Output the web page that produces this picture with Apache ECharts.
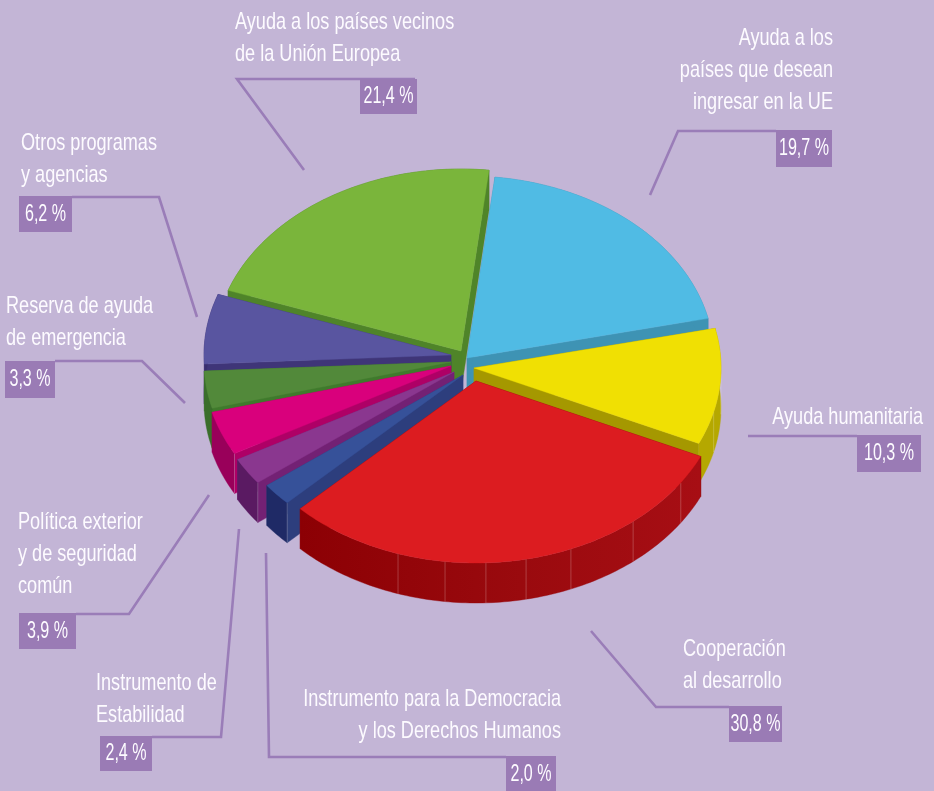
<!DOCTYPE html>
<html>
<head>
<meta charset="utf-8">
<style>html,body{margin:0;padding:0;background:#c3b5d6}#c{width:934px;height:791px}</style>
<script src="https://cdn.jsdelivr.net/npm/echarts@6/dist/echarts.min.js"></script>
</head>
<body>
<div id="c"></div>
<script>
// ---- data (clockwise from the top of the pie) ----
const categories = [
  'Ayuda a los\npaíses que desean\ningresar en la UE',
  'Ayuda humanitaria',
  'Cooperación\nal desarrollo',
  'Instrumento para la Democracia\ny los Derechos Humanos',
  'Instrumento de\nEstabilidad',
  'Política exterior\ny de seguridad\ncomún',
  'Reserva de ayuda\nde emergencia',
  'Otros programas\ny agencias',
  'Ayuda a los países vecinos\nde la Unión Europea'
];
const shares = [19.7, 10.3, 30.8, 2.0, 2.4, 3.9, 3.3, 6.2, 21.4];

// ---- styles ----
const topColors  = ['#50bbe4','#f0e003','#dc1c20','#365199','#8a378f','#d9007c','#52893a','#5955a0','#7ab53b'];
const sideColors = ['#3e93b4','#a59800','#8c0004','#2d3e7d','#732174','#ae0066','#3f7a2c','#3f3578','#4f8429'];
const rimColors  = ['#3e93b4','#b5a800',null,'#1f2a66','#5a1a62','#99005a','#3a6e2b','#3a2f70','#4f8429'];
const paintOrder = [8, 7, 0, 6, 1, 5, 4, 3, 2];
// per-slice pull-out from the pie centre, in px
const explode = [[4,-8],[11,2],[13,15],[0,9],[-9,6],[-12,0],[-12,-4],[-12,-11],[-2,-15]];
const seams = {2:[124,140.5,157.4,168.3,177.7,187.2,198.4], 1:[92,104]};
const CX = 463, CY = 366, RX = 247, RY = 182, DEPTH = 40, START = 6.5;

// ---- label layout ----
const FONT = '"Liberation Sans Narrow","Liberation Sans",sans-serif';
const FS = 24, LH = 32, SX = 0.755, PCT_SX = 0.67;
const BOX = '#9a7bb5', LINE = '#9a7db8', TXT = '#fdfbff';
const labelLayout = [
  {x:833,y:38,align:'right', box:[776,130,56,37], line:[[650,195],[678,131],[776,131]]},
  {x:923,y:417,align:'right',box:[857,435,64,37], line:[[748,436],[857,436]]},
  {x:683,y:649,align:'left', box:[729,706,53,36], line:[[591,631],[656,707],[729,707]]},
  {x:561,y:699,align:'right',box:[506,756,50,37], line:[[266,553],[269,757],[506,757]]},
  {x:96,y:683,align:'left',  box:[100,736,52,35], line:[[239,529],[221,737],[152,737]]},
  {x:18,y:522,align:'left',  box:[19,613,57,36],  line:[[209,495],[129,614],[76,614]]},
  {x:6,y:306,align:'left',   box:[5,361,50,37],   line:[[185,403],[142,361],[55,361]]},
  {x:21,y:143,align:'left',  box:[19,196,53,36],  line:[[197,317],[159,197],[72,197]]},
  {x:235,y:22,align:'left',  box:[360,79,57,35],  line:[[304,170],[237,79],[415,79]]}
];

// ---- geometry derived from the values ----
const total = shares.reduce((a, b) => a + b, 0);
const spans = [];
shares.reduce((acc, v, i) => {
  const end = acc + v / total * 360;
  spans[i] = [acc, end];
  return end;
}, START);

function pt(i, deg, dz) {
  const t = deg * Math.PI / 180;
  return [CX + explode[i][0] + RX * Math.sin(t),
          CY + explode[i][1] - RY * Math.cos(t) + (dz || 0)];
}
function arc(i, a, b, dz) {
  const n = Math.max(2, Math.ceil(Math.abs(b - a)));
  const out = [];
  for (let k = 0; k <= n; k++) out.push(pt(i, a + (b - a) * k / n, dz));
  return out;
}
function poly(points, fill) {
  return {type:'polygon', shape:{points}, style:{fill, stroke:typeof fill==='string'?fill:'#96060a', lineWidth:0.4}};
}
const seamStyle = {stroke:'rgba(255,255,255,0.28)', lineWidth:0.8};

function renderSlice(params, api) {
  const i = api.value(0);
  const [a, b] = spans[i];
  const apex = [CX + explode[i][0], CY + explode[i][1]];
  const apexLow = [apex[0], apex[1] + DEPTH];
  const children = [];
  const pa = pt(i, a), pb = pt(i, b), paL = pt(i, a, DEPTH), pbL = pt(i, b, DEPTH);
  children.push(poly([apex, pb, pbL, apexLow], sideColors[i]));
  children.push(poly([apex, pa, paL, apexLow], sideColors[i]));
  const rimFill = rimColors[i] || {type:'linear', x:0, y:0, x2:1, y2:0,
    colorStops:[{offset:0,color:'#8c0004'},{offset:0.55,color:'#9a0a0e'},{offset:1,color:'#a70e14'}]};
  children.push(poly(arc(i, a, b).concat(arc(i, b, a, DEPTH)), rimFill));
  (seams[i] || []).forEach(s => {
    const p = pt(i, s), q = pt(i, s, DEPTH);
    children.push({type:'line', shape:{x1:p[0],y1:p[1],x2:q[0],y2:q[1]}, style:seamStyle});
  });
  if (i >= 3 && i <= 5) {
    const p = pt(i, a), q = pt(i, a, DEPTH);
    children.push({type:'line', shape:{x1:p[0],y1:p[1],x2:q[0],y2:q[1]}, style:seamStyle});
  }
  children.push(poly([apex].concat(arc(i, a, b)), topColors[i]));
  return {type:'group', children};
}

function txt(x, y, text, align, sx) {
  return {type:'text', x, y, scaleX:sx, style:{text, fill:TXT, font:FS+'px '+FONT, align, verticalAlign:'middle'}};
}
function renderLabel(params, api) {
  const i = api.value(0);
  const L = labelLayout[i];
  const children = [];
  children.push({type:'polyline', shape:{points:L.line}, style:{stroke:LINE, lineWidth:2.6, fill:'none'}});
  children.push({type:'rect', shape:{x:L.box[0],y:L.box[1],width:L.box[2],height:L.box[3]}, style:{fill:BOX}});
  children.push(txt(L.box[0]+L.box[2]/2, L.box[1]+L.box[3]/2, shares[i].toFixed(1).replace('.',',')+' %', 'center', PCT_SX));
  categories[i].split('\n').forEach((s, k) => children.push(txt(L.x, L.y + k*LH, s, L.align, SX)));
  return {type:'group', children};
}

const chart = echarts.init(document.getElementById('c'));
chart.setOption({
  backgroundColor:'#c3b5d6',
  animation:false,
  tooltip:{show:false},
  series:[
    {type:'custom', coordinateSystem:'none', renderItem:renderSlice, silent:true,
     data:paintOrder.map(i => [i, shares[i]])},
    {type:'custom', coordinateSystem:'none', renderItem:renderLabel, silent:true,
     data:shares.map((v, i) => [i, v])}
  ]
});
</script>
</body>
</html>
